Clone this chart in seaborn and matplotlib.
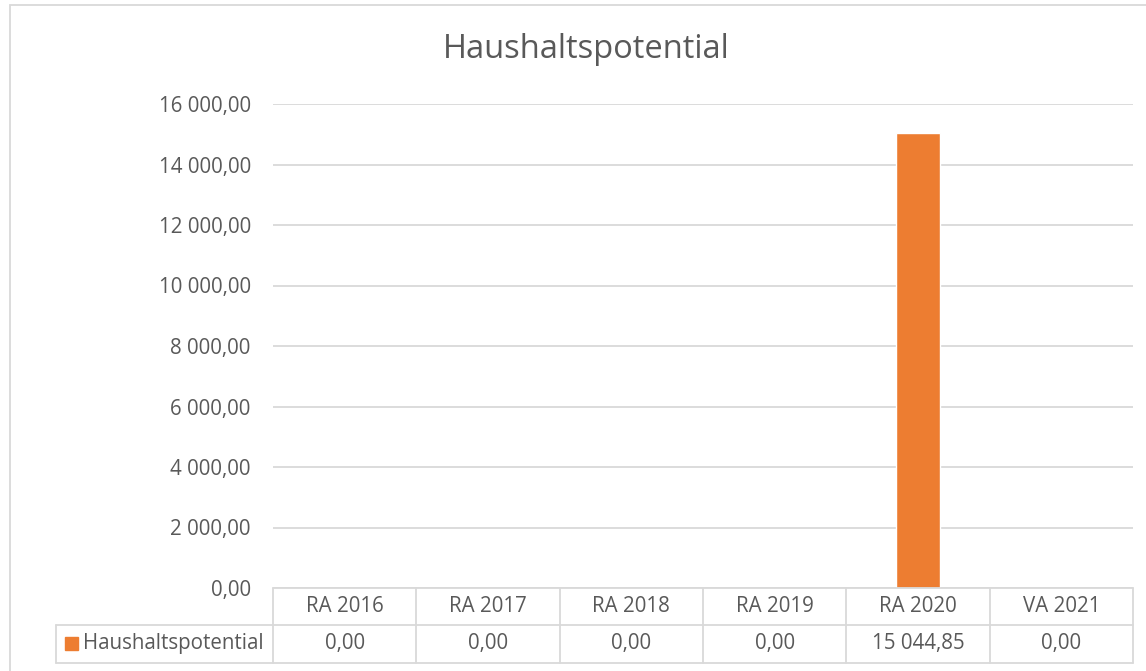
import matplotlib
matplotlib.use("Agg")
import matplotlib.pyplot as plt
import seaborn as sns
from matplotlib.lines import Line2D
from matplotlib.patches import Rectangle

# data
categories = ["RA 2016", "RA 2017", "RA 2018", "RA 2019", "RA 2020", "VA 2021"]
values = [0.00, 0.00, 0.00, 0.00, 15044.85, 0.00]
series_name = "Haushaltspotential"
y_ticks = [0, 2000, 4000, 6000, 8000, 10000, 12000, 14000, 16000]

BAR = "#ED7D31"
GRID = "#d9d9d9"
TEXT = "#595959"
W, H = 1146, 671
FS = 14.8


def de_fmt(v):
    return f"{v:,.2f}".replace(",", " ").replace(".", ",")


def fx(x):
    return x / W


def fy(y):
    return 1 - y / H


sns.set_theme(style="white")
plt.rcParams["font.family"] = ["Open Sans", "DejaVu Sans"]

fig = plt.figure(figsize=(W / 100, H / 100), dpi=100)
ax = fig.add_axes([fx(273), fy(588), fx(1133) - fx(273), fy(104) - fy(588)])

sns.barplot(x=categories, y=values, color=BAR, width=0.31, saturation=1, ax=ax)

ax.set_xlim(-0.5, len(categories) - 0.5)
ax.set_ylim(0, 16000)
ax.set_yticks(y_ticks)
ax.set_yticklabels([de_fmt(t) for t in y_ticks], color=TEXT, fontsize=FS)
ax.tick_params(axis="y", length=0, pad=16)
ax.set_xticks([])
ax.set_xlabel("")
ax.set_ylabel("")
ax.yaxis.grid(True, color=GRID, linewidth=1.3)
ax.set_axisbelow(True)
for s in ax.spines.values():
    s.set_visible(False)

# outer chart frame
fig.patches.append(Rectangle((fx(10), fy(1200)), 1.2, fy(5) - fy(1200),
                             transform=fig.transFigure, fill=False,
                             edgecolor=GRID, linewidth=1.3))

fig.text(fx(586), fy(50), series_name, ha="center", va="center",
         fontsize=23.5, color=TEXT)

# data table under the axis
left_col, x0, x1 = 56, 273, 1133
y_top, y_mid, y_bot = 588, 625, 663
cw = (x1 - x0) / len(categories)


def hline(xa, xb, y):
    fig.add_artist(Line2D([fx(xa), fx(xb)], [fy(y), fy(y)], color=GRID,
                          linewidth=1.3, transform=fig.transFigure))


def vline(x, ya, yb):
    fig.add_artist(Line2D([fx(x), fx(x)], [fy(ya), fy(yb)], color=GRID,
                          linewidth=1.3, transform=fig.transFigure))


hline(x0, x1, y_top)
hline(left_col, x1, y_mid)
hline(left_col, x1, y_bot)
vline(left_col, y_mid, y_bot)
for i in range(len(categories) + 1):
    vline(x0 + i * cw, y_top, y_bot)

for i, (cat, v) in enumerate(zip(categories, values)):
    cx = x0 + (i + 0.5) * cw
    fig.text(fx(cx), fy((y_top + y_mid) / 2), cat, ha="center", va="center",
             fontsize=FS, color=TEXT)
    fig.text(fx(cx), fy((y_mid + y_bot) / 2), de_fmt(v), ha="center",
             va="center", fontsize=FS, color=TEXT)

fig.patches.append(Rectangle((fx(65), fy(650)), fx(13), fy(637) - fy(650),
                             transform=fig.transFigure, color=BAR))
fig.text(fx(83), fy((y_mid + y_bot) / 2), series_name, ha="left", va="center",
         fontsize=FS, color=TEXT)

fig.savefig("out.png", dpi=100)
